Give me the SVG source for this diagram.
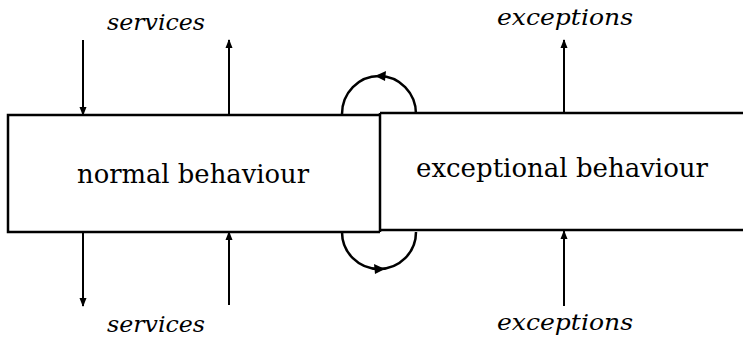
<svg xmlns="http://www.w3.org/2000/svg" width="743" height="341" viewBox="0 0 743 341">
<style>
.ln{stroke:#000;stroke-width:2.5;fill:none}
.ar{stroke:#000;stroke-width:2;fill:none}
.lbl{font-family:"DejaVu Serif","Liberation Serif",serif;font-size:26px;fill:#000}
.it{font-family:"DejaVu Serif","Liberation Serif",serif;font-style:italic;font-size:22px;fill:#000}
</style>
<defs>
<marker id="ah" markerWidth="10" markerHeight="10" refX="8" refY="5" orient="auto" markerUnits="userSpaceOnUse">
<path d="M0,1.5 L9,5 L0,8.5 Z" fill="#000"/>
</marker>
</defs>
<g id="normal">
<path class="ln" d="M380,115 H8 V232 H380"/>
<text class="lbl" x="77" y="183" textLength="232" lengthAdjust="spacingAndGlyphs">normal behaviour</text>
</g>
<g id="exceptional">
<path class="ln" d="M380,113 H743 M380,230 H743"/>
<path class="ln" d="M380,113 V232"/>
<text class="lbl" x="416" y="177" textLength="292" lengthAdjust="spacingAndGlyphs">exceptional behaviour</text>
</g>
<g id="labels">
<text class="it" x="107" y="30" textLength="98" lengthAdjust="spacingAndGlyphs">services</text>
<text class="it" x="107" y="332" textLength="98" lengthAdjust="spacingAndGlyphs">services</text>
<text class="it" x="497" y="25" textLength="136" lengthAdjust="spacingAndGlyphs">exceptions</text>
<text class="it" x="497" y="330" textLength="136" lengthAdjust="spacingAndGlyphs">exceptions</text>
</g>
<g id="connectors">
<line class="ar" x1="83" y1="40" x2="83" y2="115" marker-end="url(#ah)"/>
<line class="ar" x1="229" y1="115" x2="229" y2="40" marker-end="url(#ah)"/>
<line class="ar" x1="83" y1="232" x2="83" y2="306" marker-end="url(#ah)"/>
<line class="ar" x1="229" y1="305" x2="229" y2="232" marker-end="url(#ah)"/>
<line class="ar" x1="564" y1="113" x2="564" y2="40" marker-end="url(#ah)"/>
<line class="ar" x1="564" y1="306" x2="564" y2="231" marker-end="url(#ah)"/>
<path class="ln" d="M342,114 A37,38 0 0 1 416,114"/>
<path d="M375,76 L386,71 L385,81 Z" fill="#000"/>
<path class="ln" d="M342,232 A37,37 0 0 0 416,232"/>
<path d="M385,269 L374,264 L375,274 Z" fill="#000"/>
</g>
</svg>
